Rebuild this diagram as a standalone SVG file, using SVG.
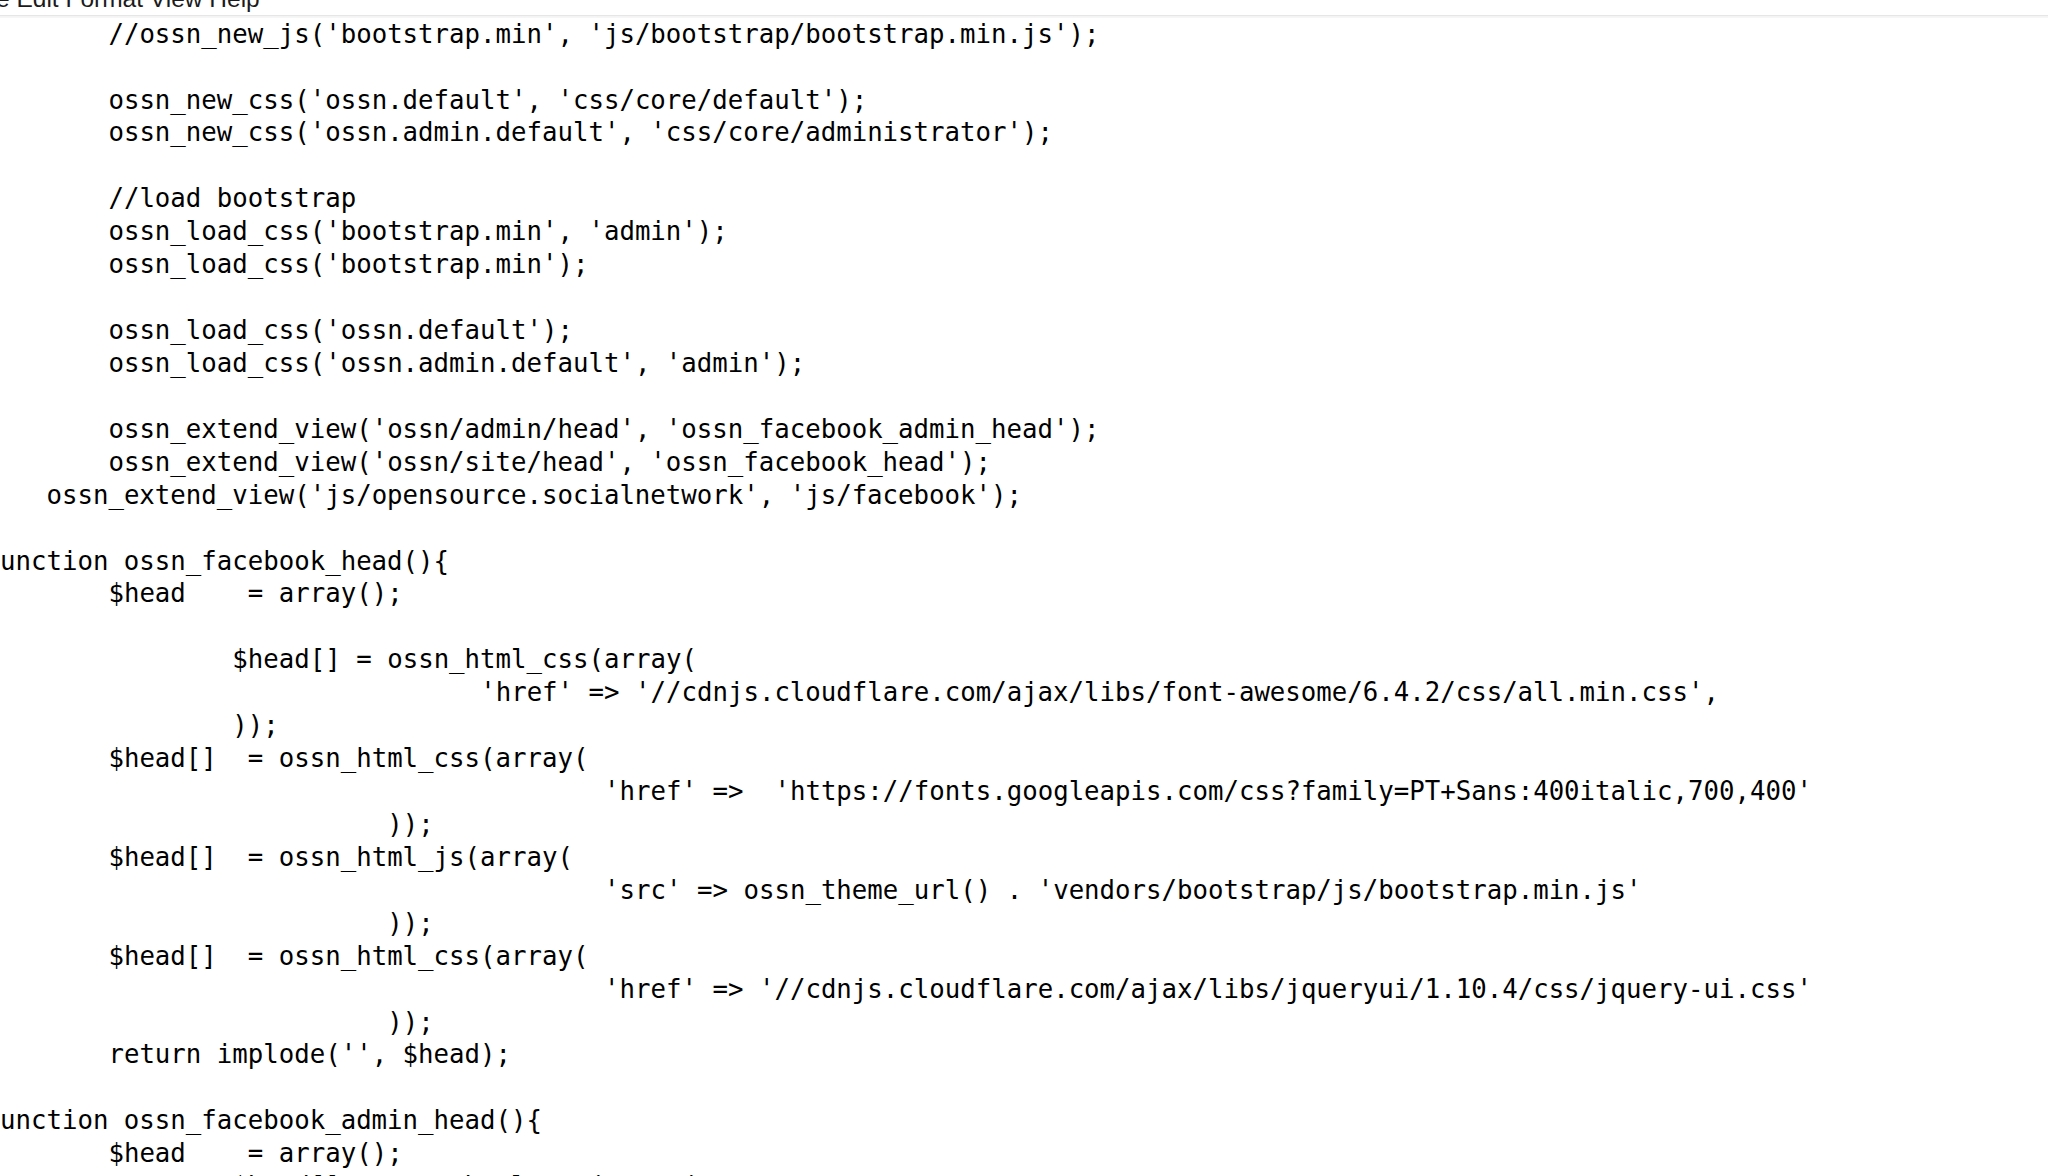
<svg xmlns="http://www.w3.org/2000/svg" width="2048" height="1176" viewBox="0 0 2048 1176">
  <style>
    .menu { font-family: "Liberation Sans", "DejaVu Sans", sans-serif; font-size: 24.5px; fill: #1b1b1b; }
    .code { font-family: "DejaVu Sans Mono", "Liberation Mono", monospace; font-size: 25.73px; fill: #000000; white-space: pre; }
  </style>
  <rect x="0" y="0" width="2048" height="1176" fill="#ffffff"/>
  <g id="menubar">
    <text class="menu" x="-4" y="7">e Edit Format View Help</text>
    <rect x="0" y="15" width="2048" height="1.5" fill="#e6e6e6"/>
    <rect x="0" y="16.5" width="2048" height="1.5" fill="#f6f6f6"/>
  </g>
  <g id="code" xml:space="preserve" transform="translate(0,1.4)">
    <text class="code" x="108.43" y="41.3">//ossn_new_js('bootstrap.min', 'js/bootstrap/bootstrap.min.js');</text>
    <text class="code" x="108.43" y="107.2">ossn_new_css('ossn.default', 'css/core/default');</text>
    <text class="code" x="108.43" y="140.1">ossn_new_css('ossn.admin.default', 'css/core/administrator');</text>
    <text class="code" x="108.43" y="206.0">//load bootstrap</text>
    <text class="code" x="108.43" y="238.9">ossn_load_css('bootstrap.min', 'admin');</text>
    <text class="code" x="108.43" y="271.8">ossn_load_css('bootstrap.min');</text>
    <text class="code" x="108.43" y="337.7">ossn_load_css('ossn.default');</text>
    <text class="code" x="108.43" y="370.6">ossn_load_css('ossn.admin.default', 'admin');</text>
    <text class="code" x="108.43" y="436.5">ossn_extend_view('ossn/admin/head', 'ossn_facebook_admin_head');</text>
    <text class="code" x="108.43" y="469.4">ossn_extend_view('ossn/site/head', 'ossn_facebook_head');</text>
    <text class="code" x="46.47" y="502.3">ossn_extend_view('js/opensource.socialnetwork', 'js/facebook');</text>
    <text class="code" x="0" y="568.2">unction ossn_facebook_head(){</text>
    <text class="code" x="108.43" y="601.1">$head    = array();</text>
    <text class="code" x="232.35" y="667.0">$head[] = ossn_html_css(array(</text>
    <text class="code" x="480.19" y="699.9">'href' => '//cdnjs.cloudflare.com/ajax/libs/font-awesome/6.4.2/css/all.min.css',</text>
    <text class="code" x="232.35" y="732.9">));</text>
    <text class="code" x="108.43" y="765.8">$head[]  = ossn_html_css(array(</text>
    <text class="code" x="604.11" y="798.7">'href' =>  'https://fonts.googleapis.com/css?family=PT+Sans:400italic,700,400'</text>
    <text class="code" x="387.25" y="831.6">));</text>
    <text class="code" x="108.43" y="864.5">$head[]  = ossn_html_js(array(</text>
    <text class="code" x="604.11" y="897.5">'src' => ossn_theme_url() . 'vendors/bootstrap/js/bootstrap.min.js'</text>
    <text class="code" x="387.25" y="930.4">));</text>
    <text class="code" x="108.43" y="963.3">$head[]  = ossn_html_css(array(</text>
    <text class="code" x="604.11" y="996.2">'href' => '//cdnjs.cloudflare.com/ajax/libs/jqueryui/1.10.4/css/jquery-ui.css'</text>
    <text class="code" x="387.25" y="1029.2">));</text>
    <text class="code" x="108.43" y="1062.1">return implode('', $head);</text>
    <text class="code" x="0" y="1127.9">unction ossn_facebook_admin_head(){</text>
    <text class="code" x="108.43" y="1160.9">$head    = array();</text>
    <text class="code" x="232.35" y="1193.8">$head[] = ossn_html_css(array(</text>
  </g>
</svg>
